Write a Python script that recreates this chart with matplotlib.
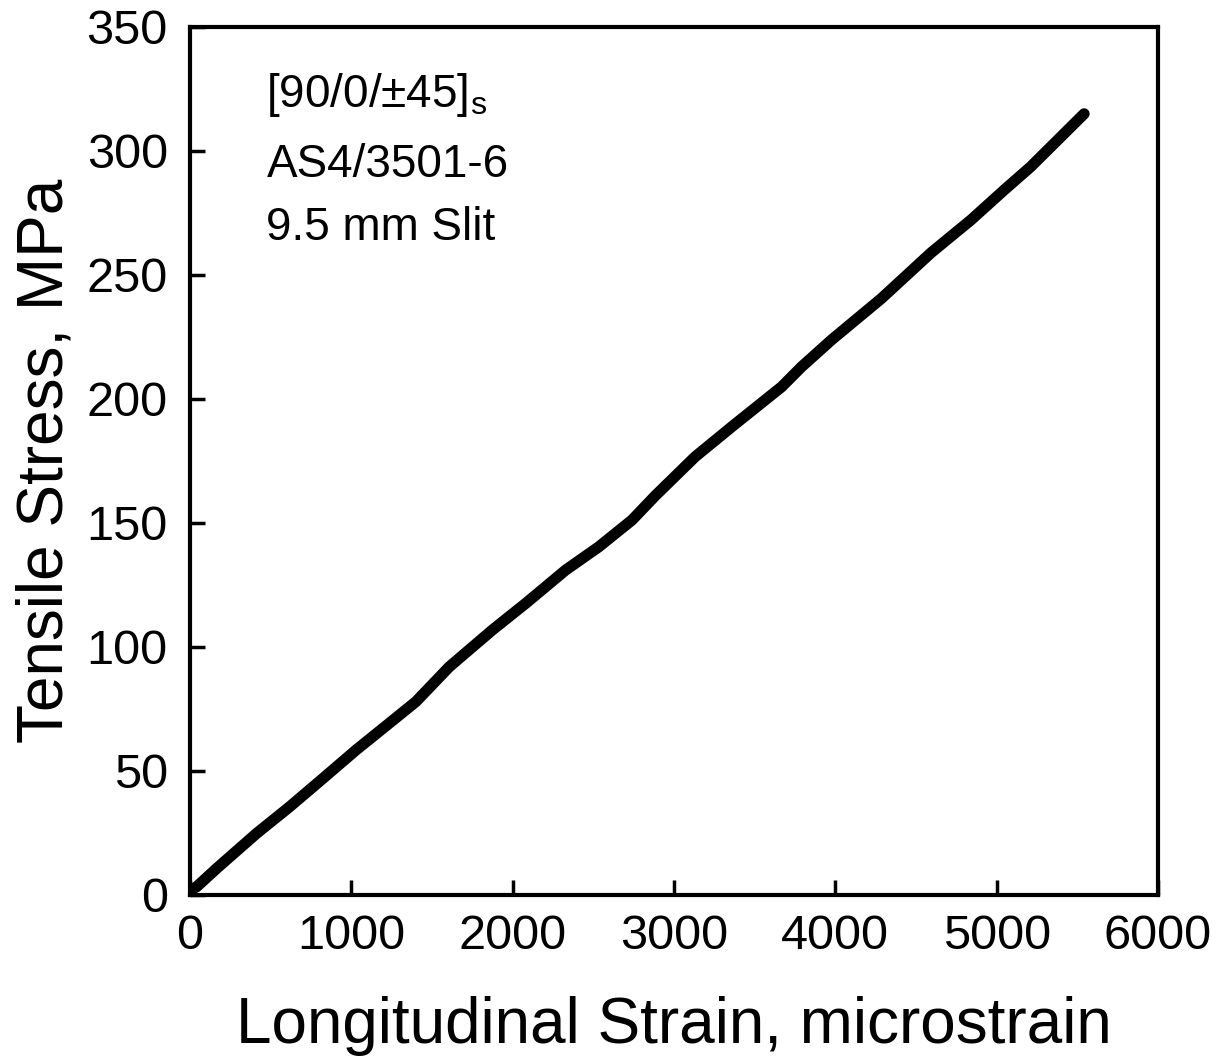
import matplotlib
matplotlib.use("Agg")
import matplotlib.pyplot as plt

plt.rcParams['font.family'] = ['Liberation Sans', 'DejaVu Sans']
plt.rcParams['mathtext.fontset'] = 'custom'
plt.rcParams['mathtext.rm'] = 'Liberation Sans'

# Data (microstrain, MPa)
strain = [0, 41, 165, 412, 618, 824, 1030, 1236, 1401, 1607, 1875, 2081, 2328,
          2534, 2740, 2884, 3131, 3358, 3667, 3791, 3976, 4285, 4594, 4841,
          5047, 5212, 5356, 5542]
stress = [2, 3.3, 10.7, 24.8, 35.6, 47, 58.5, 69.3, 78, 92, 106.9, 117.6, 131,
          140.4, 151.2, 161, 176.7, 188.8, 204.9, 213, 223.8, 240.5, 259, 272.2,
          284.3, 293.7, 303, 315]

xticks = [0, 1000, 2000, 3000, 4000, 5000, 6000]
yticks = [0, 50, 100, 150, 200, 250, 300, 350]
annot = ["[90/0/\u00b145]$_\\mathregular{s}$", "AS4/3501-6", "9.5 mm Slit"]

fig = plt.figure(figsize=(12.2, 10.6), dpi=100)
ax = fig.add_axes([190/1220, 1 - 895/1060, (1158 - 190)/1220, (895 - 27)/1060])

ax.plot(strain, stress, color='black', lw=8, solid_capstyle='round', solid_joinstyle='round')

ax.set_xlim(0, 6000)
ax.set_ylim(0, 350)
ax.set_xticks(xticks)
ax.set_yticks(yticks)
ax.tick_params(direction='in', length=11, width=2.5, labelsize=35)
ax.tick_params(axis='x', pad=14)
ax.tick_params(axis='y', pad=16)
for s in ax.spines.values():
    s.set_linewidth(3)

ax.set_xlabel("Longitudinal Strain, microstrain", fontsize=46, labelpad=26)
ax.set_ylabel("Tensile Stress, MPa", fontsize=46, labelpad=8)

ys = [0.908, 0.827, 0.7546]
for t, y in zip(annot, ys):
    ax.text(0.079, y, t, transform=ax.transAxes, fontsize=33, va='baseline', ha='left')

fig.savefig("out.png", dpi=100)
